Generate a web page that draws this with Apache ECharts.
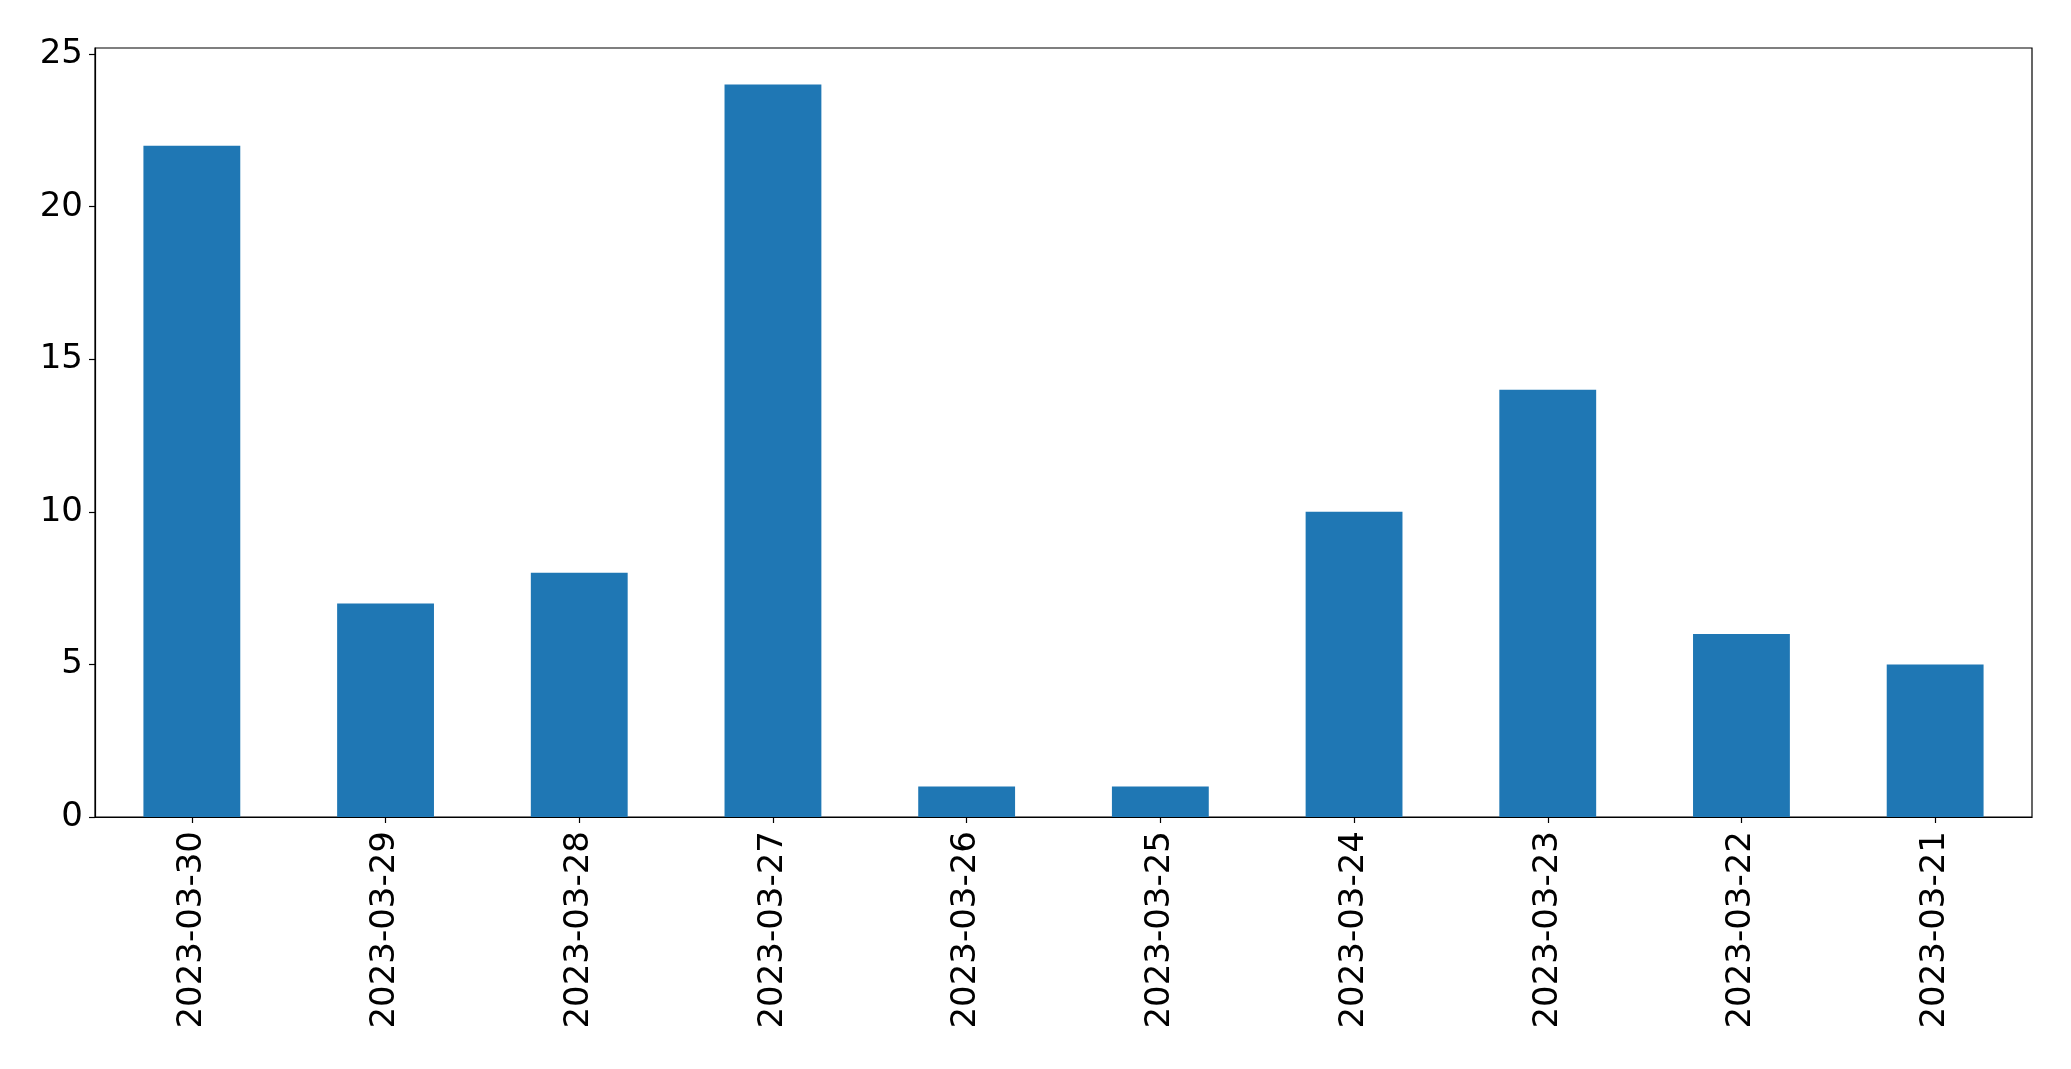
<!DOCTYPE html>
<html>
<head>
<meta charset="utf-8">
<script src="https://cdn.jsdelivr.net/npm/echarts@6/dist/echarts.min.js"></script>
<style>
html,body{margin:0;padding:0;background:#fff;}
#chart{width:2071px;height:1069px;}
</style>
</head>
<body>
<div id="chart"></div>
<script>
const categories = ['2023-03-30','2023-03-29','2023-03-28','2023-03-27','2023-03-26','2023-03-25','2023-03-24','2023-03-23','2023-03-22','2023-03-21'];
const values = [22, 7, 8, 24, 1, 1, 10, 14, 6, 5];
const yTicks = [0, 5, 10, 15, 20, 25];

const chart = echarts.init(document.getElementById('chart'));
const font = 'DejaVu Sans';
chart.setOption({
  animation: false,
  backgroundColor: '#ffffff',
  grid: {
    left: 95, right: 39, top: 48, bottom: 252,
    show: true, borderColor: '#000', borderWidth: 1.2, backgroundColor: 'transparent'
  },
  xAxis: {
    type: 'category',
    data: categories,
    boundaryGap: true,
    axisLine: { show: true, lineStyle: { color: '#000', width: 1.2 } },
    axisTick: { show: true, alignWithLabel: true, length: 6, lineStyle: { color: '#000', width: 1.2 } },
    axisLabel: { rotate: 90, color: '#000', fontFamily: font, fontSize: 34, margin: 14, interval: 0 },
    splitLine: { show: false }
  },
  yAxis: {
    type: 'value',
    min: 0, max: 25.2,
    axisLine: { show: true, lineStyle: { color: '#000', width: 1.2 } },
    axisTick: { show: true, length: 6, customValues: yTicks, lineStyle: { color: '#000', width: 1.2 } },
    axisLabel: { color: '#000', fontFamily: font, fontSize: 34, margin: 12, customValues: yTicks },
    splitLine: { show: false }
  },
  series: [{
    type: 'bar',
    data: values,
    barWidth: '50%',
    itemStyle: { color: '#1f77b4' }
  }]
});
</script>
</body>
</html>
